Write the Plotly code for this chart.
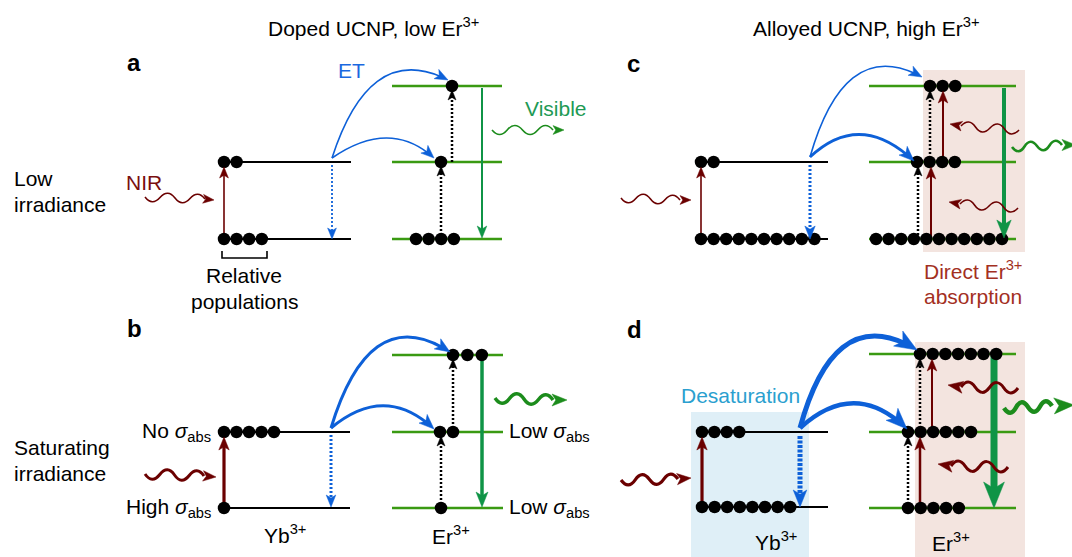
import math
import plotly.graph_objects as go

W, H = 1072, 557

# ---------------- data (relative populations, labels) ----------------
PANEL_LETTERS = ["a", "b", "c", "d"]
YB_UPPER_POP = [2, 5, 2, 4]
YB_LOWER_POP = [4, 1, 10, 8]
ER_TOP_POP = [1, 3, 3, 7]
ER_MID_POP = [1, 2, 4, 6]
ER_BOT_POP = [4, 1, 11, 5]
COLUMN_TITLES = ["Doped UCNP, low Er<sup>3+</sup>", "Alloyed UCNP, high Er<sup>3+</sup>"]
ROW_TITLES = [["Low", "irradiance"], ["Saturating", "irradiance"]]
ION_LABELS = ["Yb<sup>3+</sup>", "Er<sup>3+</sup>"]
SIGMA_LEFT = ["No <i>σ</i><sub>abs</sub>", "High <i>σ</i><sub>abs</sub>"]
SIGMA_RIGHT = ["Low <i>σ</i><sub>abs</sub>", "Low <i>σ</i><sub>abs</sub>"]

# ---------------- styles / geometry ----------------
FONT = "Liberation Sans, Arial, Helvetica, sans-serif"
FS = 21
BLACK = "#000000"
MAROON = "#6b0000"
BLUE = "#0d60d8"
GREEN_LVL = "#3a9a12"
GREEN_ARR = "#0f9446"
GREEN_WAVE = "#1c8c1c"
PINK = "#f3e4df"
LBLUE = "#dfeff7"

GEOM = {
    "a": dict(yb_x=(224, 351), er_x=(392, 502), yb_y=(162, 239), er_y=(86, 162, 239),
              yb_dot0=(224, 224), yb_sp=(12.6, 12.6), er_dot0=(452, 441, 416), er_sp=(12.6, 12.6, 12.6)),
    "b": dict(yb_x=(224, 350), er_x=(392, 503), yb_y=(432, 508), er_y=(355, 432, 508),
              yb_dot0=(224, 224), yb_sp=(12.5, 12.5), er_dot0=(453, 440, 441), er_sp=(14.4, 13.0, 12.6)),
    "c": dict(yb_x=(701, 828), er_x=(869, 1016), yb_y=(162, 239), er_y=(86, 162, 239),
              yb_dot0=(701, 701), yb_sp=(12.6, 12.6), er_dot0=(930, 917, 876), er_sp=(12.6, 12.6, 12.6)),
    "d": dict(yb_x=(701, 828), er_x=(869, 1016), yb_y=(432, 507), er_y=(354, 432, 508),
              yb_dot0=(702, 702), yb_sp=(12.4, 12.6), er_dot0=(920, 908, 908), er_sp=(12.7, 12.6, 12.7)),
}

shapes = []
annotations = []


def hline(x0, x1, y, color, width):
    shapes.append(dict(type="line", xref="x", yref="y", x0=x0, x1=x1, y0=y, y1=y,
                       line=dict(color=color, width=width), layer="below"))


def rect(x0, x1, y0, y1, color):
    shapes.append(dict(type="rect", xref="x", yref="y", x0=x0, x1=x1, y0=y0, y1=y1,
                       line=dict(width=0), fillcolor=color, layer="below"))


def head(tip, frm, color, L, Wd=None):
    """Filled stealth-style arrowhead; returns the point where the shaft should end."""
    tx, ty = tip
    d = math.hypot(tx - frm[0], ty - frm[1])
    ux, uy = (tx - frm[0]) / d, (ty - frm[1]) / d
    nx, ny = -uy, ux
    Wd = Wd if Wd is not None else 0.8 * L
    bx, by = tx - ux * L, ty - uy * L
    lx, ly = bx + nx * Wd / 2, by + ny * Wd / 2
    rx, ry = bx - nx * Wd / 2, by - ny * Wd / 2
    qx, qy = tx - ux * L * 0.75, ty - uy * L * 0.75
    path = f"M {tx:.1f},{ty:.1f} L {lx:.1f},{ly:.1f} L {qx:.1f},{qy:.1f} L {rx:.1f},{ry:.1f} Z"
    shapes.append(dict(type="path", xref="x", yref="y", path=path, fillcolor=color,
                       line=dict(color=color, width=0.5), layer="above"))
    return (tx - ux * L * 0.6, ty - uy * L * 0.6)


def arrow(tail, tip, color, width, L, dash=None):
    end = head(tip, tail, color, L)
    ln = dict(color=color, width=width)
    if dash:
        ln["dash"] = dash
    shapes.append(dict(type="line", xref="x", yref="y", x0=tail[0], y0=tail[1], x1=end[0], y1=end[1],
                       line=ln, layer="below"))


def curve(p0, p1, p2, color, width, L):
    # cut the quadratic curve before the tip so the stroke stays under the head
    def pt(t):
        return ((1 - t) ** 2 * p0[0] + 2 * t * (1 - t) * p1[0] + t * t * p2[0],
                (1 - t) ** 2 * p0[1] + 2 * t * (1 - t) * p1[1] + t * t * p2[1])
    t1 = 1.0
    while t1 > 0.5:
        q = pt(t1)
        if math.hypot(q[0] - p2[0], q[1] - p2[1]) >= 0.55 * L:
            break
        t1 -= 0.005
    c1 = (p0[0] + t1 * (p1[0] - p0[0]), p0[1] + t1 * (p1[1] - p0[1]))
    e = pt(t1)
    path = f"M {p0[0]},{p0[1]} Q {c1[0]:.1f},{c1[1]:.1f} {e[0]:.1f},{e[1]:.1f}"
    shapes.append(dict(type="path", xref="x", yref="y", path=path,
                       line=dict(color=color, width=width), layer="below"))
    head(p2, p1, color, L)


def wave(start, end, tip, color, width, amp, n, L):
    x0, y0 = start
    x1, y1 = end
    dx, dy = (x1 - x0) / n, (y1 - y0) / n
    Ls = math.hypot(dx, dy)
    nx, ny = -dy / Ls, dx / Ls
    if dx < 0:
        nx, ny = -nx, -ny
    path = f"M {x0:.1f},{y0:.1f}"
    for i in range(n):
        s = 1 if i % 2 == 0 else -1
        cx = x0 + dx * (i + 0.5) + nx * 2 * amp * s
        cy = y0 + dy * (i + 0.5) + ny * 2 * amp * s
        ex = x0 + dx * (i + 1)
        ey = y0 + dy * (i + 1)
        path += f" Q {cx:.1f},{cy:.1f} {ex:.1f},{ey:.1f}"
    shapes.append(dict(type="path", xref="x", yref="y", path=path,
                       line=dict(color=color, width=width), layer="below"))
    head(tip, end, color, L)


def text(x, y, s, size=FS, color=BLACK, xanchor="left", bold=False):
    if bold:
        s = f"<b>{s}</b>"
    annotations.append(dict(x=x, y=y, xref="x", yref="y", text=s, showarrow=False,
                            xanchor=xanchor, yanchor="middle",
                            font=dict(family=FONT, size=size, color=color)))


DOT = "2px,2px"

# ---------------- background boxes ----------------
rect(923, 1025, 70, 252, PINK)
rect(915, 1025, 342, 557, PINK)
rect(691, 809, 412, 557, LBLUE)

# ---------------- levels and dots ----------------
dot_x, dot_y = [], []
for i, p in enumerate(PANEL_LETTERS):
    g = GEOM[p]
    for y in g["yb_y"]:
        hline(g["yb_x"][0], g["yb_x"][1], y, BLACK, 2)
    for y in g["er_y"]:
        hline(g["er_x"][0], g["er_x"][1], y, GREEN_LVL, 2.5)
    for lvl, cnt in enumerate([YB_UPPER_POP[i], YB_LOWER_POP[i]]):
        for k in range(cnt):
            dot_x.append(g["yb_dot0"][lvl] + k * g["yb_sp"][lvl])
            dot_y.append(g["yb_y"][lvl])
    for lvl, cnt in enumerate([ER_TOP_POP[i], ER_MID_POP[i], ER_BOT_POP[i]]):
        for k in range(cnt):
            dot_x.append(g["er_dot0"][lvl] + k * g["er_sp"][lvl])
            dot_y.append(g["er_y"][lvl])

fig = go.Figure()
fig.add_trace(go.Scatter(x=dot_x, y=dot_y, mode="markers", hoverinfo="skip",
                         marker=dict(size=12.5, color=BLACK, line=dict(width=0))))

# ---------------- panel a ----------------
arrow((224, 239), (224, 167), MAROON, 1.6, 11)
wave((145, 197), (205, 199), (214, 200), MAROON, 1.6, 4.5, 4, 11)
arrow((332, 165), (332, 239), BLUE, 1.8, 11, dash=DOT)
curve((332, 158), (370, 40), (448, 80), BLUE, 1.6, 13)
curve((332, 158), (390, 118), (434, 158), BLUE, 1.6, 13)
arrow((441, 239), (441, 166), BLACK, 2.5, 10, dash=DOT)
arrow((452, 162), (452, 90), BLACK, 2.5, 10, dash=DOT)
arrow((482, 88), (482, 238), GREEN_ARR, 2.0, 12)
wave((492, 130), (553, 130), (564, 130), GREEN_WAVE, 1.6, 4.5, 4, 11)

# ---------------- panel b ----------------
arrow((224, 508), (224, 437), MAROON, 3.2, 13)
wave((145, 474), (204, 476), (216, 477), MAROON, 3.0, 5, 4, 13)
arrow((331, 435), (331, 507), BLUE, 3.0, 12, dash=DOT)
curve((331, 428), (370, 300), (450, 352), BLUE, 3.0, 15)
curve((331, 428), (385, 383), (434, 429), BLUE, 3.0, 15)
arrow((441, 508), (441, 436), BLACK, 2.5, 10, dash=DOT)
arrow((453, 432), (453, 359), BLACK, 2.5, 10, dash=DOT)
arrow((482, 358), (482, 507), GREEN_ARR, 3.5, 15)
wave((495, 398), (553, 400), (567, 400), GREEN_WAVE, 3.5, 5, 4, 15)

# ---------------- panel c ----------------
arrow((701, 239), (701, 167), MAROON, 1.6, 11)
wave((621, 198), (680, 200), (691, 200), MAROON, 1.6, 4.5, 4, 11)
arrow((810, 165), (810, 239), BLUE, 3.0, 13, dash=DOT)
curve((810, 157), (845, 35), (922, 77), BLUE, 1.6, 13)
curve((810, 157), (860, 110), (914, 161), BLUE, 2.8, 15)
arrow((918, 239), (918, 166), BLACK, 2.5, 10, dash=DOT)
arrow((930, 162), (930, 90), BLACK, 2.5, 10, dash=DOT)
arrow((931, 239), (931, 167), MAROON, 2.0, 12)
arrow((943, 162), (943, 91), MAROON, 2.0, 12)
arrow((1004, 88), (1004, 238), GREEN_ARR, 4.0, 18)
wave((1019, 130), (961, 126), (950, 124), MAROON, 1.6, 4.5, 4, 12)
wave((1018, 208), (960, 204), (949, 202), MAROON, 1.6, 4.5, 4, 12)
wave((1012, 147), (1062, 145), (1076, 145), GREEN_WAVE, 2.6, 4.5, 4, 14)

# ---------------- panel d ----------------
arrow((702, 507), (702, 437), MAROON, 3.2, 13)
wave((621, 480), (678, 479), (691, 478), MAROON, 3.2, 5, 4, 14)
arrow((800, 436), (800, 507), BLUE, 5.0, 17, dash="3px,1.5px")
curve((800, 428), (835, 300), (917, 350), BLUE, 5.0, 22)
curve((800, 428), (855, 378), (907, 429), BLUE, 4.5, 21)
arrow((908, 508), (908, 436), BLACK, 2.5, 10, dash=DOT)
arrow((920, 432), (920, 358), BLACK, 2.5, 10, dash=DOT)
arrow((920, 508), (920, 437), MAROON, 2.5, 13)
arrow((932, 432), (932, 359), MAROON, 2.0, 12)
arrow((994, 356), (994, 508), GREEN_ARR, 7.0, 26)
wave((1018, 388), (961, 387), (948, 385), MAROON, 3.0, 5, 4, 15)
wave((1008, 467), (951, 466), (938, 464), MAROON, 3.0, 5, 4, 15)
wave((1004, 408), (1052, 406), (1074, 405), GREEN_WAVE, 4.5, 5, 4, 20)

# ---------------- bracket ----------------
shapes.append(dict(type="path", xref="x", yref="y", path="M 222,251 L 222,258 L 267,258 L 267,251",
                   line=dict(color=BLACK, width=1.6), layer="below"))

# ---------------- texts ----------------
text(373, 27, COLUMN_TITLES[0], xanchor="center")
text(866, 27, COLUMN_TITLES[1], xanchor="center")
text(12, 178, ROW_TITLES[0][0])
text(12, 204, ROW_TITLES[0][1])
text(12, 447, ROW_TITLES[1][0])
text(12, 473, ROW_TITLES[1][1])
for letter, (x, y) in zip(PANEL_LETTERS, [(125, 62), (125, 328), (625, 63), (625, 329)]):
    text(x, y, letter, size=24, bold=True)
text(124, 182, "NIR", color="#7a0f0f")
text(336, 70, "ET", color="#1a68e0")
text(523, 108, "Visible", color="#1e9a55")
text(244, 275, "Relative", xanchor="center")
text(244, 301, "populations", xanchor="center")
text(213, 432, SIGMA_LEFT[0], xanchor="right")
text(213, 508, SIGMA_LEFT[1], xanchor="right")
text(507, 432, SIGMA_RIGHT[0])
text(507, 508, SIGMA_RIGHT[1])
text(285, 534, ION_LABELS[0], xanchor="center")
text(451, 535, ION_LABELS[1], xanchor="center")
text(776, 541, ION_LABELS[0], xanchor="center")
text(951, 542, ION_LABELS[1], xanchor="center")
text(922, 270, "Direct Er<sup>3+</sup>", color="#a3301f")
text(922, 296, "absorption", color="#a3301f")
text(679, 395, "Desaturation", color="#2b9fcf")

fig.update_layout(
    width=W, height=H,
    margin=dict(l=0, r=0, t=0, b=0, pad=0),
    paper_bgcolor="white", plot_bgcolor="white",
    showlegend=False,
    xaxis=dict(range=[0, W], visible=False, fixedrange=True),
    yaxis=dict(range=[H, 0], visible=False, fixedrange=True),
    shapes=shapes, annotations=annotations,
    font=dict(family=FONT, size=FS, color=BLACK),
)
fig.write_html("out.html")
